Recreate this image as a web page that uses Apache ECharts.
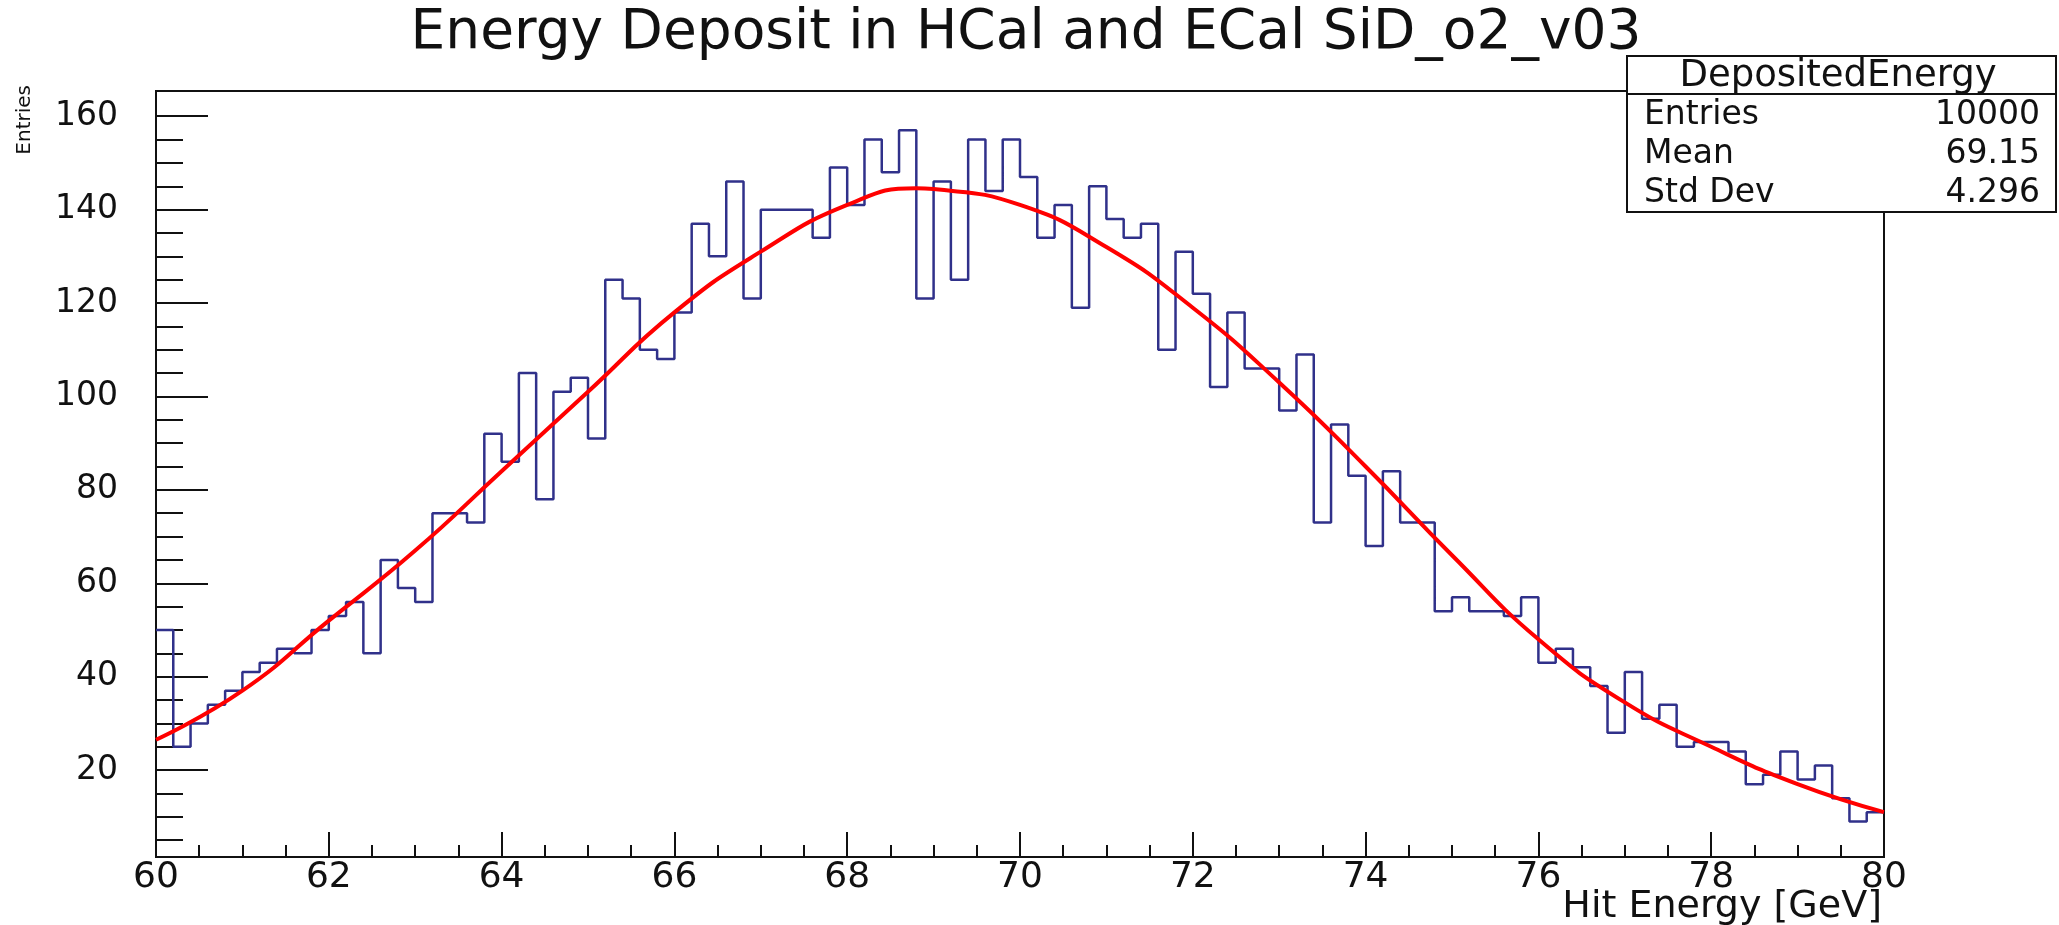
<!DOCTYPE html>
<html>
<head>
<meta charset="utf-8">
<title>Energy Deposit in HCal and ECal SiD_o2_v03</title>
<script src="https://cdn.jsdelivr.net/npm/echarts@6/dist/echarts.min.js"></script>
<style>
  html, body { margin: 0; padding: 0; background: #fff; }
  #chart { width: 2059px; height: 925px; }
</style>
</head>
<body>
<div id="chart"></div>
<script>
// histogram: 100 bins of 0.2 GeV from 60 to 80 (counts)
const binLow = 60
const binWidth = 0.2
const binCounts = [
  50, 25, 30, 34, 37, 41, 43, 46, 45, 50,
  53, 56, 45, 65, 59, 56, 75, 75, 73, 92,
  86, 105, 78, 101, 104, 91, 125, 121, 110, 108,
  118, 137, 130, 146, 121, 140, 140, 140, 134, 149,
  141, 155, 148, 157, 121, 146, 125, 155, 144, 155,
  147, 134, 141, 119, 145, 138, 134, 137, 110, 131,
  122, 102, 118, 106, 106, 97, 109, 73, 94, 83,
  68, 84, 73, 73, 54, 57, 54, 54, 53, 57,
  43, 46, 42, 38, 28, 41, 31, 34, 25, 26,
  26, 24, 17, 19, 24, 18, 21, 14, 9, 11
]

// red fit curve
const fitX = [60, 61, 62, 63, 64, 65, 66, 67, 68, 68.8, 69, 70, 71, 72, 73, 74, 75, 76, 77, 78, 79, 80]
const fitY = [26.5, 37, 52, 67, 84, 101, 118, 131, 141, 144.6, 144.4, 141, 132, 119, 103, 85, 66, 48, 34.5, 25, 17, 11]

const yMajorTicks = [20, 40, 60, 80, 100, 120, 140, 160]
const yMinorTicks = [5, 10, 15, 25, 30, 35, 45, 50, 55, 65, 70, 75, 85, 90, 95, 105, 110, 115, 125, 130, 135, 145, 150, 155]

const statsTitle = 'DepositedEnergy'
const statsNames = ['Entries', 'Mean', 'Std Dev']
const statsValues = ['10000', '69.15', '4.296']

const font = 'DejaVu Sans'
const yMin = 1.4
const yMax = 165.4

const histData = binCounts.map((c, i) => [binLow + i * binWidth, c])
histData.push([binLow + binCounts.length * binWidth, binCounts[binCounts.length - 1]])
const fitData = fitX.map((x, i) => [x, fitY[i]])

const chart = echarts.init(document.getElementById('chart'))

const statsRows = []
statsNames.forEach((name, i) => {
  const y = 115 + i * 39
  statsRows.push({
    type: 'text', z: 101, x: 1644, y: y,
    style: { text: name, font: '33px "' + font + '"', fill: '#111', align: 'left', verticalAlign: 'middle' }
  })
  statsRows.push({
    type: 'text', z: 101, x: 2040, y: y,
    style: { text: statsValues[i], font: '33px "' + font + '"', fill: '#111', align: 'right', verticalAlign: 'middle' }
  })
})

chart.setOption({
  animation: false,
  backgroundColor: '#fff',
  grid: {
    left: 156,
    right: 175,
    top: 91,
    bottom: 68,
    show: true,
    borderColor: '#111',
    borderWidth: 2,
    backgroundColor: 'transparent'
  },
  xAxis: {
    type: 'value',
    min: 60,
    max: 80,
    interval: 2,
    axisLine: { show: false },
    axisTick: { show: true, inside: true, length: 25, lineStyle: { color: '#111', width: 2 } },
    minorTick: { show: true, splitNumber: 4, length: 12, lineStyle: { color: '#111', width: 2 } },
    splitLine: { show: false },
    axisLabel: { color: '#111', fontFamily: font, fontSize: 36, margin: 3 }
  },
  yAxis: [{
    type: 'value',
    position: 'left',
    min: yMin,
    max: yMax,
    axisLine: { show: false },
    axisTick: { show: true, inside: true, length: 52, customValues: yMajorTicks, lineStyle: { color: '#111', width: 2 } },
    splitLine: { show: false },
    axisLabel: { color: '#111', fontFamily: font, fontSize: 33, margin: 38, customValues: yMajorTicks }
  }, {
    // minor ticks only
    type: 'value',
    position: 'left',
    min: yMin,
    max: yMax,
    axisLine: { show: false },
    axisTick: { show: true, inside: true, length: 27, customValues: yMinorTicks, lineStyle: { color: '#111', width: 2 } },
    splitLine: { show: false },
    axisLabel: { show: false }
  }],
  series: [{
    name: 'DepositedEnergy',
    type: 'line',
    step: 'end',
    data: histData,
    symbol: 'none',
    lineStyle: { color: '#30318a', width: 2.5 },
    z: 2
  }, {
    name: 'fit',
    type: 'line',
    smooth: true,
    data: fitData,
    symbol: 'none',
    lineStyle: { color: '#f00', width: 4 },
    z: 3
  }],
  graphic: [{
    type: 'text', x: 1026, y: 34,
    style: { text: 'Energy Deposit in HCal and ECal SiD_o2_v03', font: '55px "' + font + '"', fill: '#111', align: 'center', verticalAlign: 'middle' }
  }, {
    type: 'text', x: 25, y: 85, rotation: Math.PI / 2,
    style: { text: 'Entries', font: '20px "' + font + '"', fill: '#111', align: 'right', verticalAlign: 'middle' }
  }, {
    type: 'text', x: 1882, y: 907,
    style: { text: 'Hit Energy [GeV]', font: '38px "' + font + '"', fill: '#111', align: 'right', verticalAlign: 'middle' }
  }, {
    type: 'rect', z: 100,
    shape: { x: 1627, y: 56, width: 429, height: 156 },
    style: { fill: '#fff', stroke: '#111', lineWidth: 2 }
  }, {
    type: 'line', z: 101,
    shape: { x1: 1627, y1: 94, x2: 2056, y2: 94 },
    style: { stroke: '#111', lineWidth: 2 }
  }, {
    type: 'text', z: 101, x: 1838, y: 76,
    style: { text: statsTitle, font: '37px "' + font + '"', fill: '#111', align: 'center', verticalAlign: 'middle' }
  }].concat(statsRows)
})
</script>
</body>
</html>
